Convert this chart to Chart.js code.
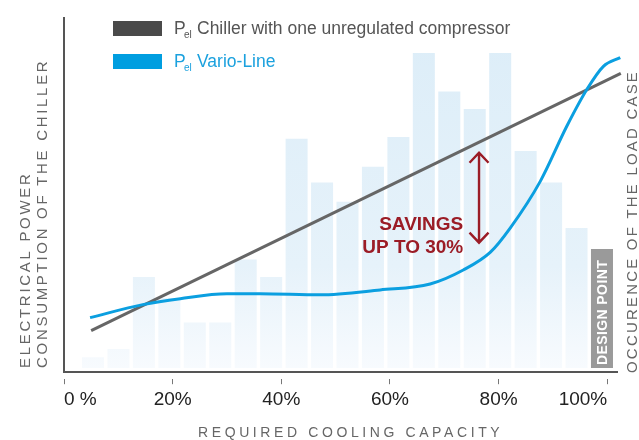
<!DOCTYPE html>
<html>
<head>
<meta charset="utf-8">
<script src="https://cdn.jsdelivr.net/npm/chart.js@4.4.1/dist/chart.umd.min.js"></script>
<style>
  html, body { margin: 0; padding: 0; background: #fff; }
  #wrap { position: relative; width: 639px; height: 440px; }
  #chart { display: block; }
</style>
</head>
<body>
<div id="wrap"><canvas id="chart" width="639" height="440"></canvas></div>
<script>
// occurrence of each load case (last bar = design point)
const loadCases = [1, 2, 3, 4, 5, 6, 7, 8, 9, 10, 11, 12, 13, 14, 15, 16, 17, 18, 19, 20, 21];
const occurrence = [3.1, 5.4, 26, 20, 13, 13, 31, 26, 65.5, 53, 47.5, 57.5, 66, 90, 79, 74, 90, 62, 53, 40, 34];

// electrical power, x = required cooling capacity in %
const capacityFixed = [5, 102.5];
const powerFixed = [10.7, 84.2];
const capacityVario = [4.8, 14.5, 21.4, 30, 36.1, 47.1, 58.2, 67.4, 73.5, 78.5, 82.1, 87.7, 92.6, 96.3, 99.3, 102.4];
const powerVario = [14.4, 18.1, 19.8, 21.2, 21.2, 20.9, 22.3, 24.0, 28.0, 33.1, 39.9, 53.4, 69.2, 79.7, 86.2, 88.7];

const xTicks = [0, 20, 40, 60, 80, 100];
const xTickLabels = ["0 %", "20%", "40%", "60%", "80%", "100%"];

const FONT = '"Liberation Sans", Arial, sans-serif';
const RED = "#9b1c26";

function barFill(context) {
  const chart = context.chart;
  const area = chart.chartArea;
  if (context.dataIndex === occurrence.length - 1) return "#9a9a9a";
  if (!area) return "#e2f0fa";
  const g = chart.ctx.createLinearGradient(0, area.top, 0, area.bottom);
  g.addColorStop(0, "#dcedf8");
  g.addColorStop(0.7, "#e6f2fa");
  g.addColorStop(1, "#f8fbfe");
  return g;
}

function spacedText(ctx, text, x, y, spacing) {
  ctx.letterSpacing = spacing + "px";
  ctx.fillText(text, x, y);
  ctx.letterSpacing = "0px";
}

const overlay = {
  id: "overlay",
  afterDatasetsDraw(chart) {
    const ctx = chart.ctx;
    const xs = chart.scales.x;
    const ys = chart.scales.y;
    const xb = chart.scales.xb;
    ctx.save();

    // design point label inside the last bar
    const dx = xb.getPixelForValue(loadCases[loadCases.length - 1]);
    ctx.save();
    ctx.translate(dx + 5, ys.getPixelForValue(0) - 3);
    ctx.rotate(-Math.PI / 2);
    ctx.fillStyle = "#fff";
    ctx.font = "bold 14px " + FONT;
    ctx.textAlign = "left";
    ctx.textBaseline = "alphabetic";
    spacedText(ctx, "DESIGN POINT", 0, 0, 0.4);
    ctx.restore();

    // savings arrow
    const ax = xs.getPixelForValue(76.4);
    const ay1 = ys.getPixelForValue(61.5);
    const ay2 = ys.getPixelForValue(35.8);
    ctx.strokeStyle = RED;
    ctx.lineWidth = 2.4;
    ctx.lineCap = "butt";
    ctx.beginPath();
    ctx.moveTo(ax, ay1);
    ctx.lineTo(ax, ay2);
    ctx.moveTo(ax - 9.5, ay1 + 10);
    ctx.lineTo(ax, ay1);
    ctx.lineTo(ax + 9.5, ay1 + 10);
    ctx.moveTo(ax - 9.5, ay2 - 10);
    ctx.lineTo(ax, ay2);
    ctx.lineTo(ax + 9.5, ay2 - 10);
    ctx.stroke();

    ctx.fillStyle = RED;
    ctx.font = "bold 19px " + FONT;
    ctx.textAlign = "right";
    const tx = xs.getPixelForValue(73.5);
    ctx.fillText("SAVINGS", tx, ys.getPixelForValue(39.5));
    ctx.fillText("UP TO 30%", tx, ys.getPixelForValue(33));
    ctx.restore();
  },
  afterDraw(chart) {
    const ctx = chart.ctx;
    ctx.save();
    ctx.textBaseline = "alphabetic";
    ctx.textAlign = "left";

    // legend
    const legend = [
      { label: "Chiller with one unregulated compressor", swatch: "#4a4a4a", text: "#555555", y: 34 },
      { label: "Vario-Line", swatch: "#009ee0", text: "#1ba1de", y: 67 },
    ];
    legend.forEach((item) => {
      ctx.fillStyle = item.swatch;
      ctx.fillRect(113, item.y - 13, 49, 15);
      ctx.fillStyle = item.text;
      ctx.font = "17.5px " + FONT;
      ctx.fillText("P", 174, item.y);
      ctx.font = "10px " + FONT;
      ctx.fillText("el", 184, item.y + 4);
      ctx.font = "17.5px " + FONT;
      ctx.fillText(item.label, 197, item.y);
    });

    // axis titles
    ctx.fillStyle = "#666";
    ctx.font = "14px " + FONT;
    spacedText(ctx, "REQUIRED COOLING CAPACITY", 198, 437, 3.6);

    ctx.font = "15px " + FONT;
    ctx.save();
    ctx.translate(30, 368);
    ctx.rotate(-Math.PI / 2);
    spacedText(ctx, "ELECTRICAL POWER", 0, 0, 2.7);
    spacedText(ctx, "CONSUMPTION OF THE CHILLER", 0, 17, 2.7);
    ctx.restore();

    ctx.save();
    ctx.translate(637, 373);
    ctx.rotate(-Math.PI / 2);
    spacedText(ctx, "OCCURENCE OF THE LOAD CASE", 0, 0, 2.2);
    ctx.restore();

    ctx.restore();
  },
};

new Chart(document.getElementById("chart"), {
  type: "bar",
  data: {
    datasets: [
      {
        type: "line",
        label: "Pel Chiller with one unregulated compressor",
        data: capacityFixed.map((c, i) => ({ x: c, y: powerFixed[i] })),
        xAxisID: "x",
        borderColor: "#666666",
        borderWidth: 3,
        pointRadius: 0,
        clip: false,
        order: 2,
      },
      {
        type: "line",
        label: "Pel Vario-Line",
        data: capacityVario.map((c, i) => ({ x: c, y: powerVario[i] })),
        xAxisID: "x",
        borderColor: "#0b9fe0",
        borderWidth: 3,
        pointRadius: 0,
        cubicInterpolationMode: "monotone",
        clip: false,
        order: 1,
      },
      {
        label: "Occurence",
        data: loadCases.map((c, i) => ({ x: c, y: occurrence[i] })),
        xAxisID: "xb",
        backgroundColor: barFill,
        borderWidth: 0,
        grouped: false,
        categoryPercentage: 1,
        barPercentage: 0.865,
        order: 3,
      },
    ],
  },
  options: {
    responsive: false,
    animation: false,
    devicePixelRatio: 1,
    layout: { padding: { top: 18, right: 22, left: 64, bottom: 25 } },
    plugins: { legend: { display: false }, tooltip: { enabled: false } },
    scales: {
      x: {
        type: "linear",
        position: "bottom",
        offset: false,
        min: 0,
        max: 101.8,
        afterBuildTicks: (axis) => {
          axis.ticks = xTicks.map((v) => ({ value: v }));
        },
        ticks: {
          align: "inner",
          maxRotation: 0,
          autoSkip: false,
          padding: 4,
          color: "#222",
          font: { family: FONT, size: 19 },
          callback: (v) => xTickLabels[xTicks.indexOf(v)],
        },
        grid: {
          offset: false,
          drawOnChartArea: false,
          drawTicks: true,
          tickLength: 12,
          tickWidth: 1,
          tickColor: "#777",
          tickBorderDash: [0, 6, 6, 100],
        },
        border: { display: true, color: "#555", width: 2 },
      },
      xb: {
        type: "linear",
        display: false,
        offset: false,
        grid: { offset: false },
        min: -0.14,
        max: 21.59,
      },
      y: {
        min: -1.2,
        max: 100,
        ticks: { display: false },
        grid: { display: false, drawTicks: false },
        border: { display: true, color: "#555", width: 2 },
      },
    },
  },
  plugins: [overlay],
});
</script>
</body>
</html>
